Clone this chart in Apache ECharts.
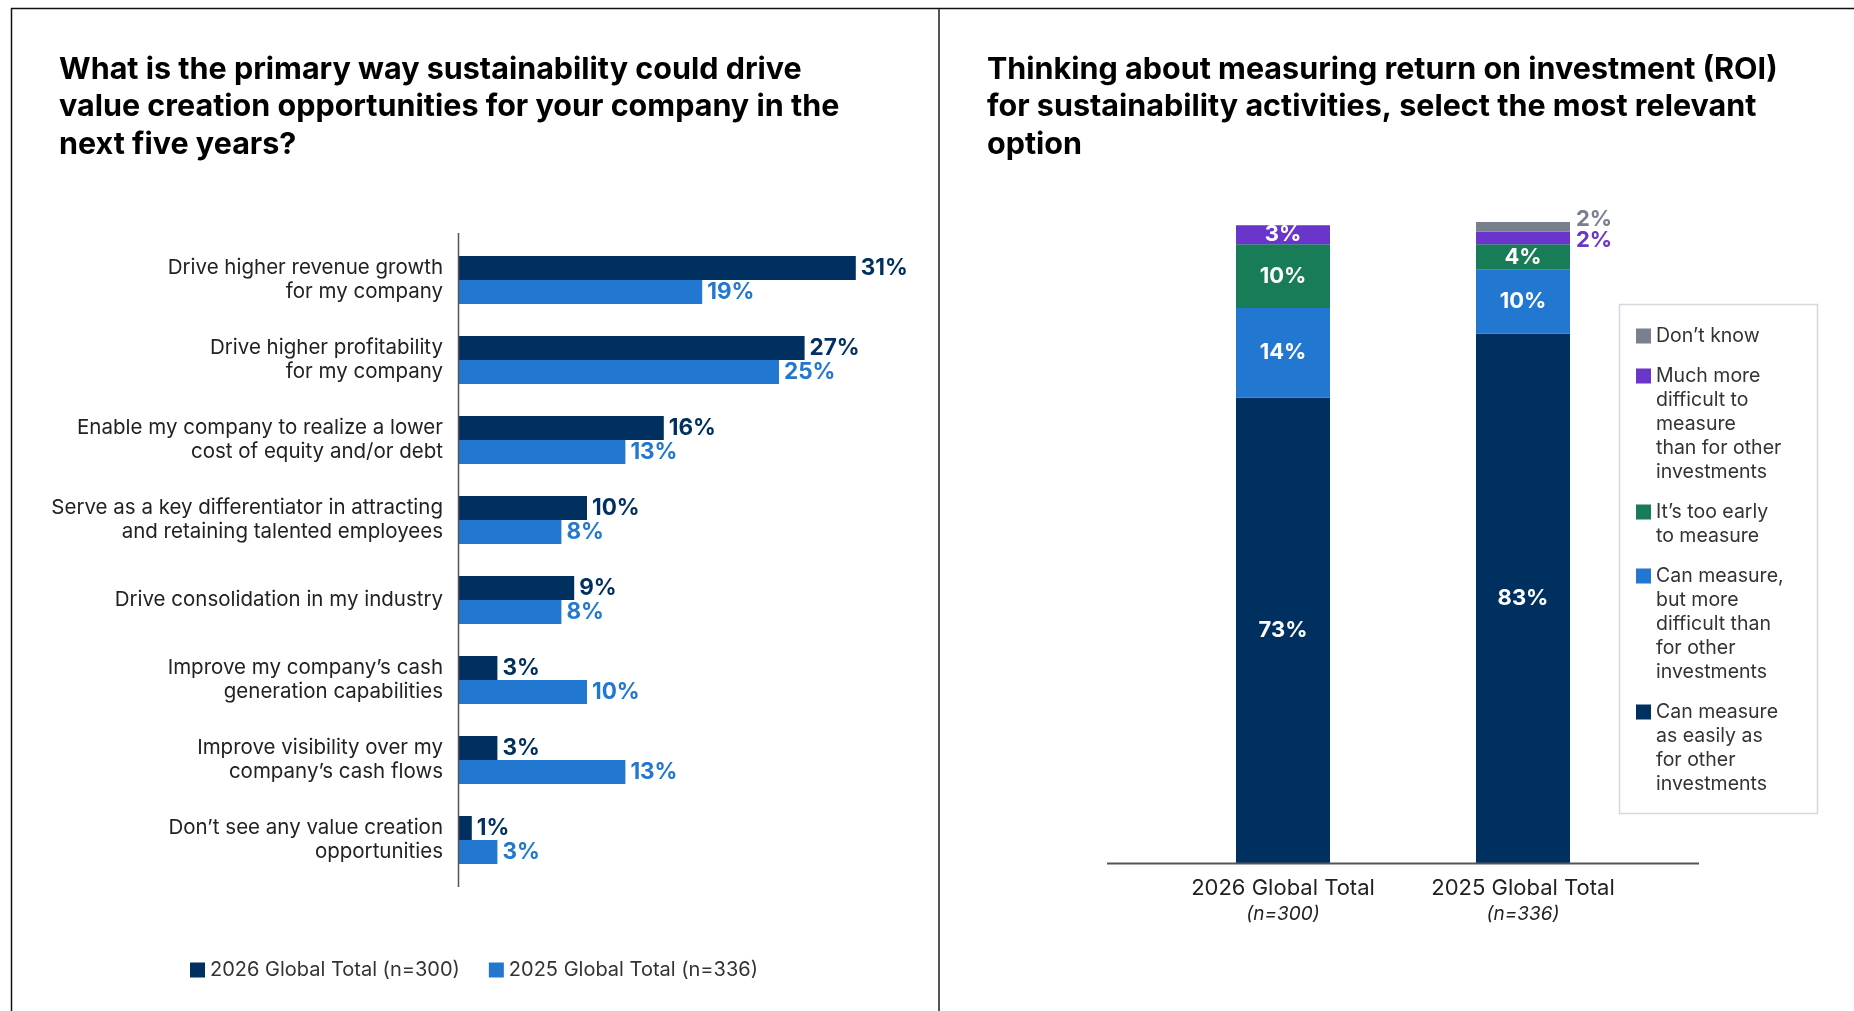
<!DOCTYPE html>
<html><head><meta charset="utf-8">
<script src="https://cdn.jsdelivr.net/npm/echarts@6/dist/echarts.min.js"></script>
<style>html,body{margin:0;padding:0;background:#fff}#c{width:1854px;height:1011px}</style>
</head><body><div id="c"></div>
<script>
// ---------- Left chart data ----------
const valueCategories = [
  'Drive higher revenue growth\nfor my company',
  'Drive higher profitability\nfor my company',
  'Enable my company to realize a lower\ncost of equity and/or debt',
  'Serve as a key differentiator in attracting\nand retaining talented employees',
  'Drive consolidation in my industry',
  'Improve my company’s cash\ngeneration capabilities',
  'Improve visibility over my\ncompany’s cash flows',
  'Don’t see any value creation\nopportunities'
];
const valueSeriesNames = ['2026 Global Total (n=300)', '2025 Global Total (n=336)'];
const value2026 = [31, 27, 16, 10, 9, 3, 3, 1];
const value2025 = [19, 25, 13, 8, 8, 10, 13, 3];

// ---------- Right chart data ----------
const roiCategories = ['2026 Global Total', '2025 Global Total'];
const roiSampleSizes = ['(n=300)', '(n=336)'];
const roiSeriesNames = [
  'Can measure as easily as for other investments',
  'Can measure, but more difficult than for other investments',
  'It’s too early to measure',
  'Much more difficult to measure than for other investments',
  'Don’t know'
];
const roiLegendLabels = [
  'Can measure\nas easily as\nfor other\ninvestments',
  'Can measure,\nbut more\ndifficult than\nfor other\ninvestments',
  'It’s too early\nto measure',
  'Much more\ndifficult to\nmeasure\nthan for other\ninvestments',
  'Don’t know'
];
const roiEasily = [73, 83];
const roiHarder = [14, 10];
const roiTooEarly = [10, 4];
const roiMuchHarder = [3, 2];
const roiDontKnow = [null, 2];

const titles = [
  'What is the primary way sustainability could drive\nvalue creation opportunities for your company in the\nnext five years?',
  'Thinking about measuring return on investment (ROI)\nfor sustainability activities, select the most relevant\noption'
];

// ---------- Styles ----------
const FONT = 'Inter, "Noto Sans", sans-serif';
const NAVY = '#00305F', BLUE = '#2277D0', GREEN = '#187C57', PURPLE = '#6935CA', GRAY = '#77808C';
const roiColors = [NAVY, BLUE, GREEN, PURPLE, GRAY];
const roiValues = [roiEasily, roiHarder, roiTooEarly, roiMuchHarder, roiDontKnow];
const LEG_LH = 24;

const chart = echarts.init(document.getElementById('c'), null, {renderer: 'canvas'});

const leftSeries = [value2026, value2025].map((arr, i) => ({
  name: valueSeriesNames[i],
  type: 'bar',
  xAxisIndex: 0, yAxisIndex: 0,
  data: arr,
  barGap: '0%',
  barCategoryGap: '40%',
  itemStyle: {color: i === 0 ? NAVY : BLUE},
  label: {
    show: true, position: 'right', distance: 5,
    formatter: '{c}%', color: i === 0 ? NAVY : BLUE,
    fontFamily: FONT, fontWeight: 'bold', fontSize: 22.5
  }
}));

const rightSeries = roiValues.map((arr, si) => ({
  name: roiSeriesNames[si],
  type: 'bar',
  stack: 'roi',
  xAxisIndex: 1, yAxisIndex: 1,
  barWidth: 94,
  itemStyle: {color: roiColors[si]},
  data: arr.map((v) => {
    const d = {value: v};
    if (v != null && v <= 2) {
      d.label = {
        position: 'right', distance: 6, color: roiColors[si],
        offset: si === 4 ? [0, -7] : [0, 2]
      };
    }
    return d;
  }),
  label: {
    show: true, position: 'inside', color: '#fff',
    fontFamily: FONT, fontWeight: 'bold', fontSize: 22,
    formatter: p => (p.value == null ? '' : p.value + '%')
  }
}));

// Right legend: one component per entry so the swatch sits beside the first text line
const legendOrder = [4, 3, 2, 1, 0];
const legendTops = [324, 364, 500, 564, 700];
const rightLegends = legendOrder.map((si, k) => {
  const n = roiLegendLabels[si].split('\n').length;
  const h = n * LEG_LH;
  const icon = 'path://M0,0h0.01v0.01h-0.01Z M0,4.5h15v15h-15Z M0,' + (h - 0.01) + 'h0.01v0.01h-0.01Z';
  return {
    data: [roiSeriesNames[si]],
    formatter: name => roiLegendLabels[roiSeriesNames.indexOf(name)],
    orient: 'vertical',
    left: 1636, top: legendTops[k],
    padding: 0,
    icon: icon, itemWidth: 15, itemHeight: h,
    selectedMode: false,
    textStyle: {fontFamily: FONT, fontSize: 19.5, lineHeight: LEG_LH, color: '#333'}
  };
});

const option = {
  animation: false,
  backgroundColor: '#fff',
  textStyle: {fontFamily: FONT},
  title: [
    {text: titles[0], left: 59, top: 51, padding: 0,
     textStyle: {fontFamily: FONT, fontWeight: 'bold', fontSize: 30.5, lineHeight: 37.5, color: '#000'}},
    {text: titles[1], left: 987, top: 51, padding: 0,
     textStyle: {fontFamily: FONT, fontWeight: 'bold', fontSize: 30.5, lineHeight: 37.5, color: '#000'}}
  ],
  legend: [
    {
      data: valueSeriesNames,
      left: 185, top: 955,
      orient: 'horizontal',
      icon: 'rect', itemWidth: 15, itemHeight: 15, itemGap: 29,
      selectedMode: false,
      textStyle: {fontFamily: FONT, fontSize: 20, color: '#333'}
    }
  ].concat(rightLegends),
  grid: [
    {left: 459, top: 240, width: 448, height: 640},
    {left: 1163, top: 222, width: 480, height: 641}
  ],
  xAxis: [
    {type: 'value', gridIndex: 0, min: 0, max: 35, show: false},
    {
      type: 'category', gridIndex: 1, data: roiCategories,
      axisLine: {show: false}, axisTick: {show: false},
      axisLabel: {
        margin: 12,
        formatter: (val, idx) => '{a|' + val + '}\n{b|' + roiSampleSizes[idx] + '}',
        rich: {
          a: {fontFamily: FONT, fontSize: 22, color: '#222', lineHeight: 26},
          b: {fontFamily: FONT, fontSize: 19, fontStyle: 'italic', color: '#222', lineHeight: 26}
        }
      }
    }
  ],
  yAxis: [
    {
      type: 'category', gridIndex: 0, data: valueCategories, inverse: true,
      axisLine: {show: false},
      axisTick: {show: false},
      axisLabel: {fontFamily: FONT, fontSize: 20.5, lineHeight: 24, color: '#222', margin: 16, align: 'right'}
    },
    {type: 'value', gridIndex: 1, min: 0, max: 100.5, show: false}
  ],
  graphic: [
    {type: 'line', shape: {x1: 11, y1: 8.5, x2: 1854, y2: 8.5}, style: {stroke: '#111', lineWidth: 1.5}, silent: true},
    {type: 'line', shape: {x1: 11.5, y1: 8, x2: 11.5, y2: 1011}, style: {stroke: '#111', lineWidth: 1.5}, silent: true},
    {type: 'line', shape: {x1: 939, y1: 9, x2: 939, y2: 1011}, style: {stroke: '#555', lineWidth: 2}, silent: true},
    {type: 'line', shape: {x1: 458.5, y1: 233, x2: 458.5, y2: 887}, style: {stroke: '#555', lineWidth: 1.5}, silent: true, z: 10},
    {type: 'line', shape: {x1: 1107, y1: 863.5, x2: 1699, y2: 863.5}, style: {stroke: '#555', lineWidth: 2}, silent: true, z: 10},
    {type: 'rect', shape: {x: 1619.5, y: 304.5, width: 198, height: 509}, style: {fill: 'none', stroke: '#D5D8DE', lineWidth: 1.5}, silent: true, z: -1}
  ],
  series: leftSeries.concat(rightSeries)
};
chart.setOption(option);
</script>
</body></html>
